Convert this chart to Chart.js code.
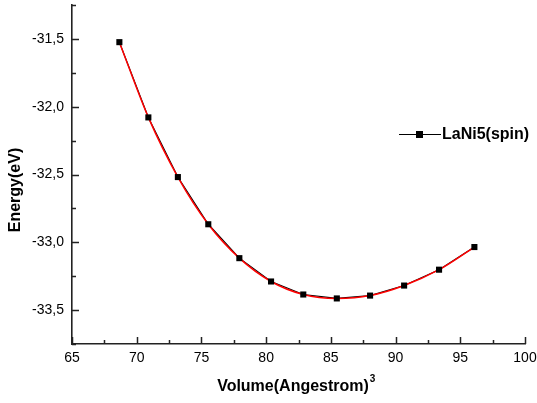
<!DOCTYPE html>
<html>
<head>
<meta charset="utf-8">
<script src="https://cdn.jsdelivr.net/npm/chart.js@4.4.1/dist/chart.umd.min.js"></script>
<style>
  html, body { margin: 0; padding: 0; background: #fff; }
  #wrap { width: 537px; height: 403px; position: relative; }
</style>
</head>
<body>
<div id="wrap"><canvas id="eosChart"></canvas></div>
<script>
  // volume (A^3) and total energy (eV) for LaNi5, spin polarised
  var volumes = [68.66, 70.90, 73.18, 75.53, 77.93, 80.38, 82.87, 85.46, 88.03, 90.66, 93.36, 96.09];
  var energies = [-31.524, -32.079, -32.519, -32.867, -33.117, -33.289, -33.385, -33.414, -33.393, -33.319, -33.202, -33.035];
  var seriesLabel = 'LaNi5(spin)';

  // axis ticks
  var xTicks = [65, 70, 75, 80, 85, 90, 95, 100];
  var xMinorTicks = [67.5, 72.5, 77.5, 82.5, 87.5, 92.5, 97.5];
  var yTicks = [-33.5, -33.0, -32.5, -32.0, -31.5];
  var yMinorTicks = [-33.75, -33.25, -32.75, -32.25, -31.75, -31.25];

  var FONT = '"Liberation Sans", Arial, sans-serif';

  var pts = volumes.map(function (v, i) { return { x: v, y: energies[i] }; });

  // ticks pointing into the plot, major + minor
  var innerTicks = {
    id: 'innerTicks',
    afterDatasetsDraw: function (chart) {
      var c = chart.ctx, a = chart.chartArea;
      var xs = chart.scales.x, ys = chart.scales.y;
      c.save();
      c.strokeStyle = '#222';
      c.lineWidth = 1.5;
      c.beginPath();
      xTicks.forEach(function (v) {
        var px = Math.round(xs.getPixelForValue(v)) + 0.5;
        c.moveTo(px, a.bottom); c.lineTo(px, a.bottom - 7);
      });
      xMinorTicks.forEach(function (v) {
        var px = Math.round(xs.getPixelForValue(v)) + 0.5;
        c.moveTo(px, a.bottom); c.lineTo(px, a.bottom - 4);
      });
      yTicks.forEach(function (v) {
        var py = Math.round(ys.getPixelForValue(v)) + 0.5;
        c.moveTo(a.left, py); c.lineTo(a.left + 7, py);
      });
      yMinorTicks.forEach(function (v) {
        var py = Math.round(ys.getPixelForValue(v)) + 0.5;
        c.moveTo(a.left, py); c.lineTo(a.left + 4, py);
      });
      c.stroke();
      c.restore();
    }
  };

  // axis titles and the legend box
  var labelsPlugin = {
    id: 'labelsPlugin',
    afterDraw: function (chart) {
      var c = chart.ctx;
      c.save();
      c.fillStyle = '#000';
      c.font = 'bold 16px ' + FONT;
      c.textBaseline = 'middle';

      // x title with superscript 3
      var xt = 'Volume(Angestrom)';
      c.textAlign = 'left';
      var w = c.measureText(xt).width;
      var x0 = 296 - w / 2 - 3;
      c.fillText(xt, x0, 387);
      c.font = 'bold 10px ' + FONT;
      c.fillText('3', x0 + w + 1, 379);

      // y title
      c.font = 'bold 16px ' + FONT;
      c.save();
      c.translate(16, 190);
      c.rotate(-Math.PI / 2);
      c.textAlign = 'center';
      c.fillText('Energy(eV)', 0, 0);
      c.restore();

      // legend
      c.strokeStyle = '#000';
      c.lineWidth = 1.2;
      c.beginPath();
      c.moveTo(399, 134.5); c.lineTo(441, 134.5);
      c.stroke();
      c.fillRect(416, 131, 7, 7);
      c.textAlign = 'left';
      c.fillText(seriesLabel, 442, 135);
      c.restore();
    }
  };

  var ctx = document.getElementById('eosChart').getContext('2d');
  var chart = new Chart(ctx, {
    type: 'scatter',
    data: {
      datasets: [
        {
          label: seriesLabel,
          data: pts,
          showLine: true,
          borderColor: '#000',
          borderWidth: 1.2,
          pointRadius: 0,
          tension: 0,
          order: 3
        },
        {
          label: 'fit',
          data: pts,
          showLine: true,
          borderColor: '#ff0000',
          borderWidth: 1.5,
          pointRadius: 0,
          cubicInterpolationMode: 'monotone',
          order: 2
        },
        {
          label: 'points',
          data: pts,
          showLine: false,
          pointStyle: 'rect',
          pointRadius: 4.3,
          pointBackgroundColor: '#000',
          pointBorderColor: '#000',
          pointBorderWidth: 0,
          order: 1
        }
      ]
    },
    options: {
      responsive: true,
      maintainAspectRatio: false,
      animation: false,
      devicePixelRatio: 1,
      layout: { padding: { left: 0, right: 12, top: 5, bottom: 0 } },
      plugins: {
        legend: { display: false },
        tooltip: { enabled: false }
      },
      scales: {
        x: {
          type: 'linear',
          min: 65,
          max: 100,
          afterFit: function (s) { s.height = 59; s.paddingLeft = 0; s.paddingRight = 0; },
          afterBuildTicks: function (s) { s.ticks = xTicks.map(function (v) { return { value: v }; }); },
          grid: { drawOnChartArea: false, drawTicks: false },
          border: { display: true, color: '#222', width: 1.6 },
          ticks: {
            padding: 6,
            color: '#000',
            font: { family: FONT, size: 14 },
            maxRotation: 0,
            callback: function (v) { return String(v); }
          }
        },
        y: {
          type: 'linear',
          min: -33.75,
          max: -31.25,
          afterFit: function (s) { s.width = 72; s.paddingTop = 0; s.paddingBottom = 0; },
          afterBuildTicks: function (s) { s.ticks = yTicks.map(function (v) { return { value: v }; }); },
          grid: { drawOnChartArea: false, drawTicks: false },
          border: { display: true, color: '#222', width: 1.6 },
          ticks: {
            padding: 8,
            color: '#000',
            font: { family: FONT, size: 14 },
            callback: function (v) { return v.toFixed(1).replace('.', ','); }
          }
        }
      }
    },
    plugins: [innerTicks, labelsPlugin]
  });
</script>
</body>
</html>
